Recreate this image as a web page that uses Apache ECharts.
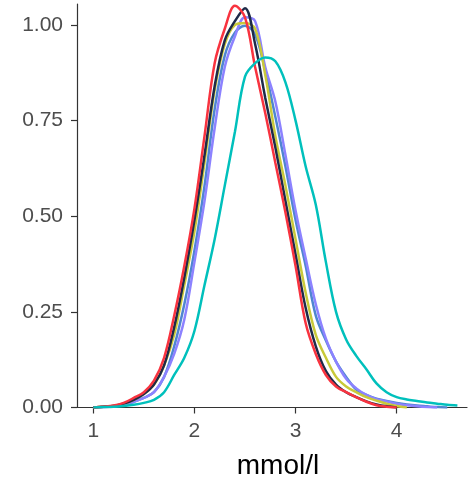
<!DOCTYPE html>
<html>
<head>
<meta charset="utf-8">
<script src="https://cdn.jsdelivr.net/npm/echarts@6/dist/echarts.min.js"></script>
<style>html,body{margin:0;padding:0;background:#fff;}#c{width:468px;height:480px;}</style>
</head>
<body>
<div id="c"></div>
<script>
const xs = [1.0,1.1,1.2,1.3,1.4,1.5,1.6,1.7,1.8,1.9,2.0,2.1,2.2,2.3,2.4,2.5,2.6,2.7,2.8,2.9,3.0,3.1,3.2,3.3,3.4,3.5,3.6,3.7,3.8,3.9,4.0,4.1,4.2,4.3,4.4,4.5,4.6];
const xTicks = [1, 2, 3, 4];
const yTicks = [0, 0.25, 0.5, 0.75, 1.0];
const xTitle = 'mmol/l';

const redVals    = [0,0.002,0.005,0.012,0.025,0.04,0.07,0.13,0.24,0.37,0.52,0.71,0.90,0.99,1.05,1.02,0.89,0.77,0.64,0.51,0.37,0.22,0.14,0.085,0.055,0.04,0.027,0.015,0.006,0.002,0];
const blackVals  = [0,0.002,0.004,0.01,0.02,0.035,0.06,0.11,0.21,0.34,0.49,0.66,0.84,0.96,1.01,1.044,0.95,0.81,0.68,0.54,0.40,0.26,0.16,0.095,0.06,0.04,0.027,0.016,0.008,0.003,0];
const yellowVals = [0,0.002,0.004,0.01,0.02,0.035,0.06,0.11,0.19,0.32,0.46,0.64,0.83,0.95,1.0,1.005,0.99,0.87,0.71,0.58,0.44,0.30,0.19,0.13,0.08,0.055,0.04,0.027,0.018,0.01,0.004,0];
const lavVals    = [0,0.001,0.003,0.007,0.015,0.025,0.04,0.08,0.14,0.23,0.38,0.54,0.73,0.89,0.97,1.02,1.01,0.89,0.80,0.66,0.515,0.39,0.27,0.18,0.12,0.075,0.05,0.033,0.022,0.016,0.01,0.006,0.003,0.001,0];
const blueVals   = [0,0.001,0.003,0.007,0.015,0.025,0.04,0.08,0.16,0.27,0.41,0.58,0.78,0.92,0.98,0.998,0.975,0.88,0.76,0.63,0.49,0.37,0.24,0.175,0.12,0.08,0.047,0.033,0.023,0.017,0.012,0.008,0.005,0.003,0.001,0];
const cyanVals   = [0,0.001,0.002,0.004,0.007,0.012,0.02,0.04,0.085,0.13,0.20,0.32,0.44,0.58,0.72,0.865,0.90,0.915,0.905,0.85,0.75,0.63,0.53,0.38,0.25,0.178,0.135,0.10,0.063,0.04,0.027,0.021,0.017,0.013,0.01,0.007,0.005];

const seriesDefs = [
  {vals: blueVals,   color: '#4F86D0'},
  {vals: lavVals,    color: '#8C82FF'},
  {vals: yellowVals, color: '#C9C93A'},
  {vals: blackVals,  color: '#1E2A48'},
  {vals: redVals,    color: '#F8333F'},
  {vals: cyanVals,   color: '#00C0BC'}
];

const chart = echarts.init(document.getElementById('c'), null, {renderer: 'canvas'});
const font = 'Liberation Sans, Arial, sans-serif';
chart.setOption({
  animation: false,
  backgroundColor: '#ffffff',
  grid: {left: 77, top: 4, width: 390, bottom: 72.5, containLabel: false, outerBoundsMode: 'none'},
  xAxis: {
    type: 'value', min: 0.839, max: 4.695,
    name: xTitle, nameLocation: 'middle', nameGap: 45,
    nameTextStyle: {fontSize: 28, color: '#000', fontFamily: font, padding: [0, 0, 0, 12]},
    axisLine: {show: true, onZero: false, lineStyle: {color: '#333', width: 1.2}},
    axisTick: {show: true, length: 6, lineStyle: {color: '#333', width: 1.2}, customValues: xTicks},
    axisLabel: {fontSize: 21, color: '#4d4d4d', fontFamily: font, margin: 13, customValues: xTicks},
    splitLine: {show: false}
  },
  yAxis: {
    type: 'value', min: 0, max: 1.0548,
    axisLine: {show: true, onZero: false, lineStyle: {color: '#333', width: 1.2}},
    axisTick: {show: true, length: 6, lineStyle: {color: '#333', width: 1.2}, customValues: yTicks},
    axisLabel: {fontSize: 21, color: '#4d4d4d', fontFamily: font, margin: 14, customValues: yTicks,
      formatter: v => v.toFixed(2)},
    splitLine: {show: false}
  },
  series: seriesDefs.map(s => ({
    type: 'line',
    data: s.vals.map((v, i) => [xs[i], v]),
    smooth: 0.35,
    showSymbol: false,
    lineStyle: {color: s.color, width: 2.5},
    itemStyle: {color: s.color}
  }))
});
</script>
</body>
</html>
